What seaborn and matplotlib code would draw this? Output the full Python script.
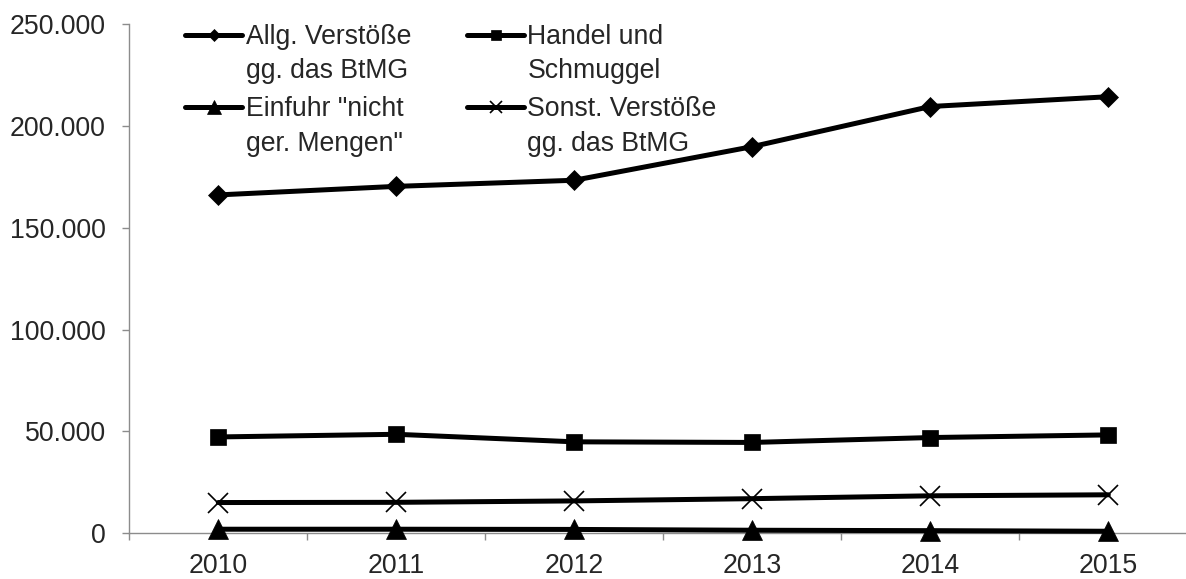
import numpy as np
import pandas as pd
import matplotlib
matplotlib.use("Agg")
import matplotlib.pyplot as plt
import seaborn as sns
from matplotlib.ticker import FuncFormatter

# Data
years = ["2010", "2011", "2012", "2013", "2014", "2015"]
allg = [166100, 170300, 173300, 189800, 209500, 214300]
handel = [47300, 48600, 44900, 44600, 47000, 48300]
einfuhr = [2000, 2000, 1900, 1500, 1300, 1000]
sonst = [15100, 15200, 15900, 17000, 18400, 18900]

labels = [
    "Allg. Verstöße\ngg. das BtMG",
    "Einfuhr \"nicht\nger. Mengen\"",
    "Handel und\nSchmuggel",
    "Sonst. Verstöße\ngg. das BtMG",
]
series = [allg, einfuhr, handel, sonst]
markers = ["D", "^", "s", "x"]
msizes = [9.7, 14.5, 12.0, 14.0]

FS = 19.2

sns.set_theme(style="white")
plt.rcParams["font.family"] = ["Liberation Sans", "DejaVu Sans"]
plt.rcParams["font.size"] = FS

fig = plt.figure(figsize=(11.86, 5.79), dpi=100)
ax = fig.add_axes([129.3 / 1186, 45.7 / 579, 1068 / 1186, 509.3 / 579])

for lab, vals, m, ms in zip(labels, series, markers, msizes):
    df = pd.DataFrame({"Jahr": years, "Anzahl": vals})
    sns.lineplot(
        data=df, x="Jahr", y="Anzahl", ax=ax, color="black",
        linewidth=3.6, marker=m, markersize=ms,
        markeredgewidth=1.2 if m == "x" else 0.5,
        markeredgecolor="black", label=lab, sort=False, clip_on=False,
    )

ax.set_xlim(-0.5, 5.5)
ax.set_ylim(0, 250000)
ax.set_yticks(np.arange(0, 250001, 50000))
ax.yaxis.set_major_formatter(FuncFormatter(lambda v, _: f"{int(v):,}".replace(",", ".")))
ax.set_xticks(np.arange(-0.5, 5.6, 1), minor=True)
ax.set_xlabel("")
ax.set_ylabel("")

for side in ["top", "right"]:
    ax.spines[side].set_visible(False)
for side in ["left", "bottom"]:
    ax.spines[side].set_color("#8c8c8c")
    ax.spines[side].set_linewidth(1.0)
    ax.spines[side].set_zorder(0.5)

ax.tick_params(axis="x", which="major", length=0, pad=14, labelsize=FS)
ax.tick_params(axis="x", which="minor", direction="out", length=5, width=1.0,
               color="#8c8c8c", bottom=True)
ax.tick_params(axis="y", direction="out", length=5, width=1.0, color="#8c8c8c",
               pad=12, labelsize=FS, left=True)

ax.get_legend().remove()
handles, labs = ax.get_legend_handles_labels()
leg = fig.legend(
    handles, labs, ncol=2, loc="upper left",
    bbox_to_anchor=(185 / 1186, 1 - 24 / 579),
    frameon=False, borderpad=0, borderaxespad=0,
    handlelength=2.15, handletextpad=0.12, columnspacing=2.1,
    labelspacing=0.45, markerscale=0.65, handleheight=1.0,
    fontsize=FS,
)
for t in leg.get_texts():
    t.set_linespacing(1.42)
for col in leg._legend_handle_box.get_children():
    for entry in col.get_children():
        entry.align = "top"

fig.savefig("out.png", dpi=100)
